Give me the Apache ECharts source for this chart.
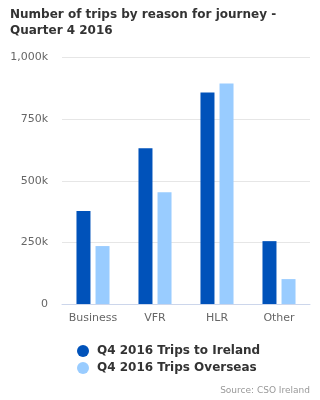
<!DOCTYPE html>
<html>
<head>
<meta charset="utf-8">
<script src="https://cdn.jsdelivr.net/npm/echarts@6/dist/echarts.min.js"></script>
<style>
  html, body { margin: 0; padding: 0; background: #fff; }
  #main { width: 320px; height: 400px; }
</style>
</head>
<body>
<div id="main"></div>
<script>
// data (thousands of trips)
var categories = ['Business', 'VFR', 'HLR', 'Other'];
var tripsToIreland = [377, 632, 858, 255];
var tripsOverseas = [235, 453, 895, 101];
var seriesNames = ['Q4 2016 Trips to Ireland', 'Q4 2016 Trips Overseas'];

var font = 'DejaVu Sans';
var chart = echarts.init(document.getElementById('main'), null, { renderer: 'canvas' });

function fmt(v) {
  if (v === 0) return '0';
  return (v >= 1000 ? Math.floor(v / 1000) + ',' + String(v % 1000).padStart(3, '0') : v) + 'k';
}

var option = {
  animation: false,
  color: ['#0052ba', '#99ccff'],
  title: [{
    text: 'Number of trips by reason for journey -\nQuarter 4 2016',
    left: 10, top: 7, padding: 0,
    textStyle: { fontFamily: font, fontSize: 12, fontWeight: 'bold', color: '#333', lineHeight: 16 }
  }, {
    text: 'Source: CSO Ireland',
    right: 10, top: 386, padding: 0,
    textStyle: { fontFamily: font, fontSize: 9, fontWeight: 'normal', color: '#999' }
  }],
  legend: {
    orient: 'vertical',
    left: 77, top: 345, padding: 0,
    icon: 'circle',
    itemWidth: 12, itemHeight: 12,
    itemGap: 5,
    textStyle: { fontFamily: font, fontSize: 12, fontWeight: 'bold', color: '#333', padding: [0, 0, 0, 3] },
    data: seriesNames
  },
  grid: { left: 62, right: 10, top: 57.5, bottom: 96, containLabel: false },
  xAxis: {
    type: 'category',
    data: categories,
    axisLine: { lineStyle: { color: '#ccd6eb' } },
    axisTick: { length: 10, lineStyle: { color: '#ccd6eb' } },
    axisLabel: { fontFamily: font, fontSize: 11, color: '#666', margin: 9, interval: 0 }
  },
  yAxis: {
    type: 'value',
    min: 0, max: 1000, interval: 250,
    axisLine: { show: false },
    axisTick: { show: false },
    splitLine: { lineStyle: { color: '#e6e6e6' } },
    axisLabel: { fontFamily: font, fontSize: 11, color: '#666', margin: 14, formatter: fmt }
  },
  series: [{
    name: seriesNames[0],
    type: 'bar',
    data: tripsToIreland,
    barWidth: 14,
    barGap: '36%'
  }, {
    name: seriesNames[1],
    type: 'bar',
    data: tripsOverseas,
    barWidth: 14,
    barGap: '36%'
  }]
};
chart.setOption(option);
</script>
</body>
</html>
